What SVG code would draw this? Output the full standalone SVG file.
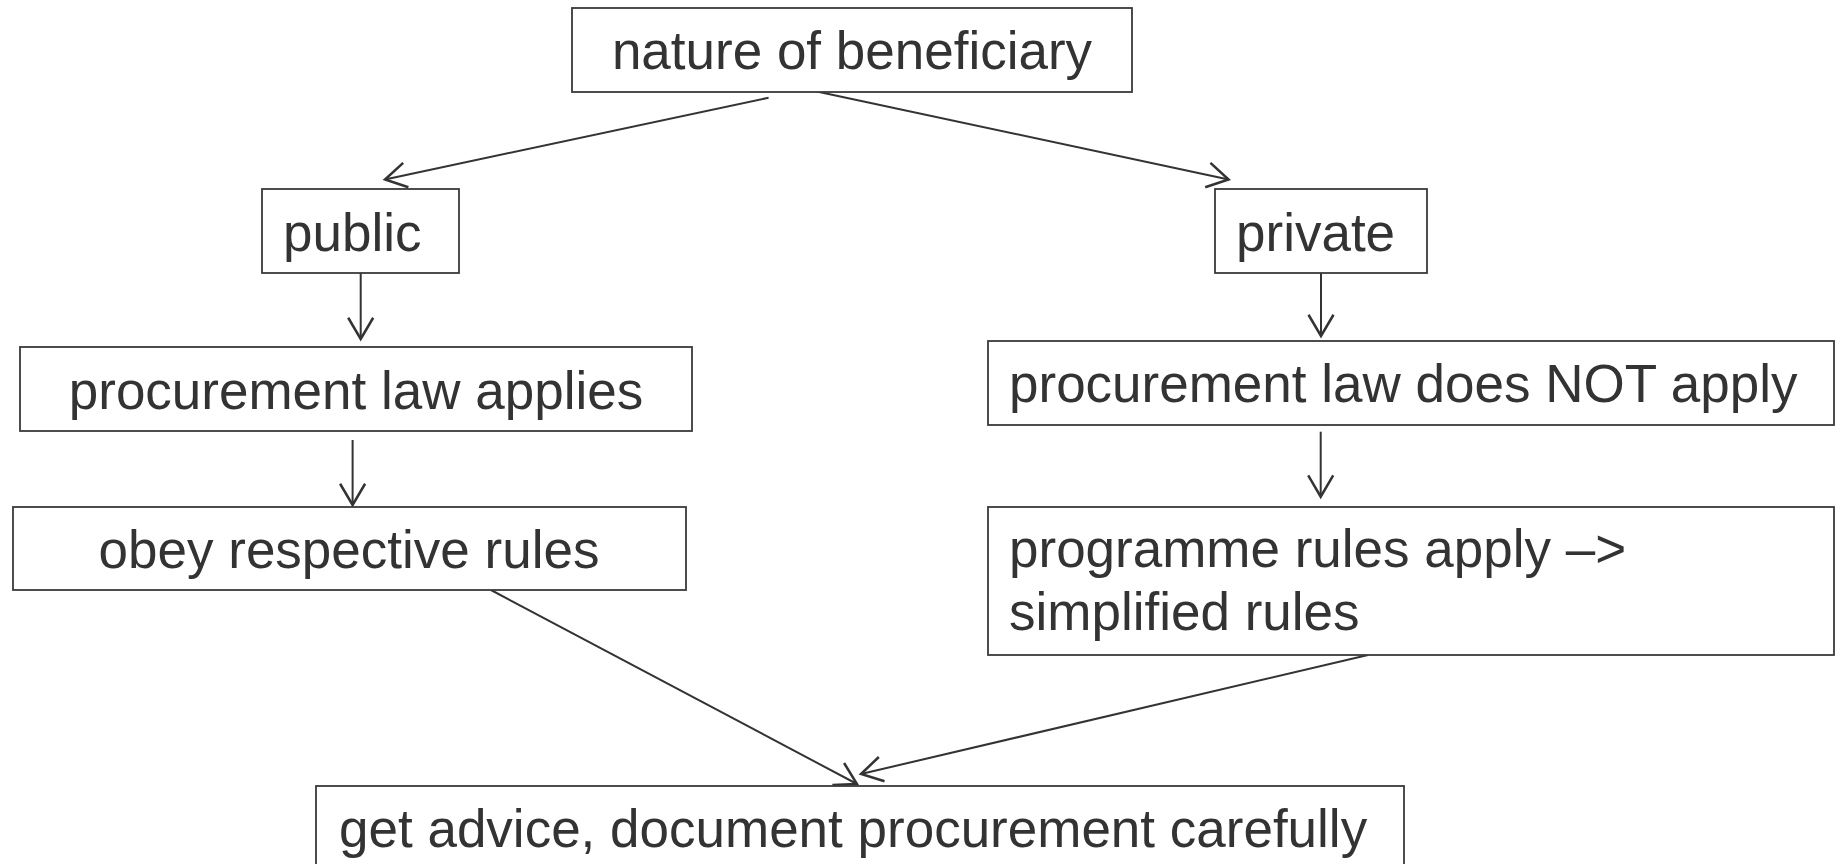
<svg xmlns="http://www.w3.org/2000/svg" width="1840" height="864" viewBox="0 0 1840 864">
<style>
.box{fill:#fff;stroke:#3a3a3a;stroke-width:1.8}
.t{font-family:"Liberation Sans",Arial,sans-serif;font-size:53px;fill:#333}
.c{text-anchor:middle}
.ln{fill:none;stroke:#333;stroke-width:2}
</style>
<defs>
<marker id="ah" markerUnits="userSpaceOnUse" markerWidth="30" markerHeight="30" viewBox="-20 -12 24 24" refX="0" refY="0" orient="auto">
<path d="M-17,-10 L0,0 L-17,10" fill="none" stroke="#333" stroke-width="2"/>
</marker>
</defs>
<rect width="1840" height="864" fill="#fff"/>
<g id="connectors">
<line class="ln" x1="768.6" y1="97.7" x2="385" y2="179.5" marker-end="url(#ah)"/>
<line class="ln" x1="814.5" y1="91" x2="1228.6" y2="179.5" marker-end="url(#ah)"/>
<line class="ln" x1="360.7" y1="273" x2="360.7" y2="339" marker-end="url(#ah)"/>
<line class="ln" x1="1321" y1="270" x2="1321" y2="336" marker-end="url(#ah)"/>
<line class="ln" x1="352.6" y1="440" x2="352.6" y2="505" marker-end="url(#ah)"/>
<line class="ln" x1="1320.7" y1="431.7" x2="1320.7" y2="496.7" marker-end="url(#ah)"/>
<line class="ln" x1="491" y1="590" x2="857" y2="784" marker-end="url(#ah)"/>
<line class="ln" x1="1368" y1="655" x2="861" y2="774" marker-end="url(#ah)"/>
</g>
<g id="n-nature">
<rect class="box" x="572" y="8" width="560" height="84"/>
<text class="t c" x="852" y="69">nature of beneficiary</text>
</g>
<g id="n-public">
<rect class="box" x="262" y="189" width="197" height="84"/>
<text class="t" x="283" y="251">public</text>
</g>
<g id="n-private">
<rect class="box" x="1215" y="189" width="212" height="84"/>
<text class="t" x="1236" y="251">private</text>
</g>
<g id="n-applies">
<rect class="box" x="20" y="347" width="672" height="84"/>
<text class="t c" x="356" y="409">procurement law applies</text>
</g>
<g id="n-notapply">
<rect class="box" x="988" y="341" width="846" height="84"/>
<text class="t" x="1009" y="402">procurement law does NOT apply</text>
</g>
<g id="n-obey">
<rect class="box" x="13" y="507" width="673" height="83"/>
<text class="t c" x="349" y="568">obey respective rules</text>
</g>
<g id="n-programme">
<rect class="box" x="988" y="507" width="846" height="148"/>
<text class="t" x="1009" y="567">programme rules apply –&gt;</text>
<text class="t" x="1009" y="630">simplified rules</text>
</g>
<g id="n-advice">
<rect class="box" x="316" y="786" width="1088" height="100"/>
<text class="t" x="339" y="847">get advice, document procurement carefully</text>
</g>
</svg>
